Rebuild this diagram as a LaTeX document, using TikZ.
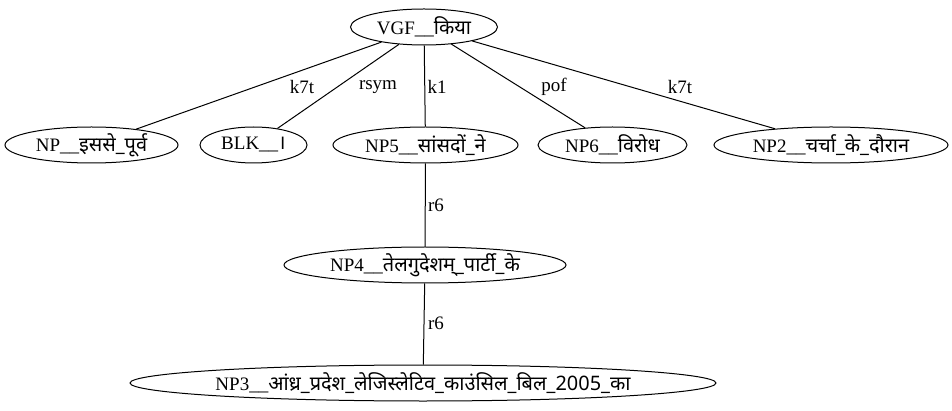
\documentclass[tikz,border=0pt]{standalone}
\usepackage{fontspec}
\setmainfont{Liberation Serif}
\newfontfamily\dev[Script=Devanagari,Scale=1.05]{Noto Sans}
\usetikzlibrary{shapes.geometric}

\tikzset{
  word/.style={ellipse, draw, line width=1pt, inner ysep=0pt, inner xsep=-8pt,
    minimum height=36pt, font=\fontsize{19}{22}\selectfont},
  rel/.style={inner sep=1pt, font=\fontsize{19}{22}\selectfont},
  dep/.style={line width=1pt},
}

\begin{document}
\begin{tikzpicture}[x=1pt, y=-1pt]
        \useasboundingbox (0,0) rectangle (952,411);

        \node[word, minimum width=147pt] (vgf) at (424,27) {VGF\_\_{\dev किया}};
        \node[word, minimum width=173pt] (np) at (91.5,145) {NP\_\_{\dev इससे\_पूर्व}};
        \node[word, minimum width=107pt] (blk) at (253.5,145) {BLK\_\_{\dev ।}};
        \node[word, minimum width=185pt] (np5) at (425.5,145) {NP5\_\_{\dev सांसदों\_ने}};
        \node[word, minimum width=149pt] (np6) at (612.5,145) {NP6\_\_{\dev विरोध}};
        \node[word, minimum width=234pt] (np2) at (831,145) {NP2\_\_{\dev चर्चा\_के\_दौरान}};
        \node[word, minimum width=282pt] (np4) at (425,265) {NP4\_\_{\dev तेलगुदेशम्\_पार्टी\_के}};
        \node[word, minimum width=586pt] (np3) at (423,383) {NP3\_\_{\dev आंध्र\_प्रदेश\_लेजिस्लेटिव\_काउंसिल\_बिल\_2005\_का}};

        \draw[dep] (vgf) -- (np);
        \draw[dep] (vgf) -- (blk);
        \draw[dep] (vgf) -- (np5);
        \draw[dep] (vgf) -- (np6);
        \draw[dep] (vgf) -- (np2);
        \draw[dep] (np5) -- (np4);
        \draw[dep] (np4) -- (np3);

        % edge labels
        \node[rel] (k7ta) at (302,87) {k7t};
        \node[rel] (rsym) at (378,87) {rsym};
        \node[rel] (k1) at (437,87) {k1};
        \node[rel] (pof) at (554,87) {pof};
        \node[rel] (k7tb) at (680,87) {k7t};
        \node[rel] (r6a) at (436,205) {r6};
        \node[rel] (r6b) at (436,323) {r6};
\end{tikzpicture}
\end{document}
